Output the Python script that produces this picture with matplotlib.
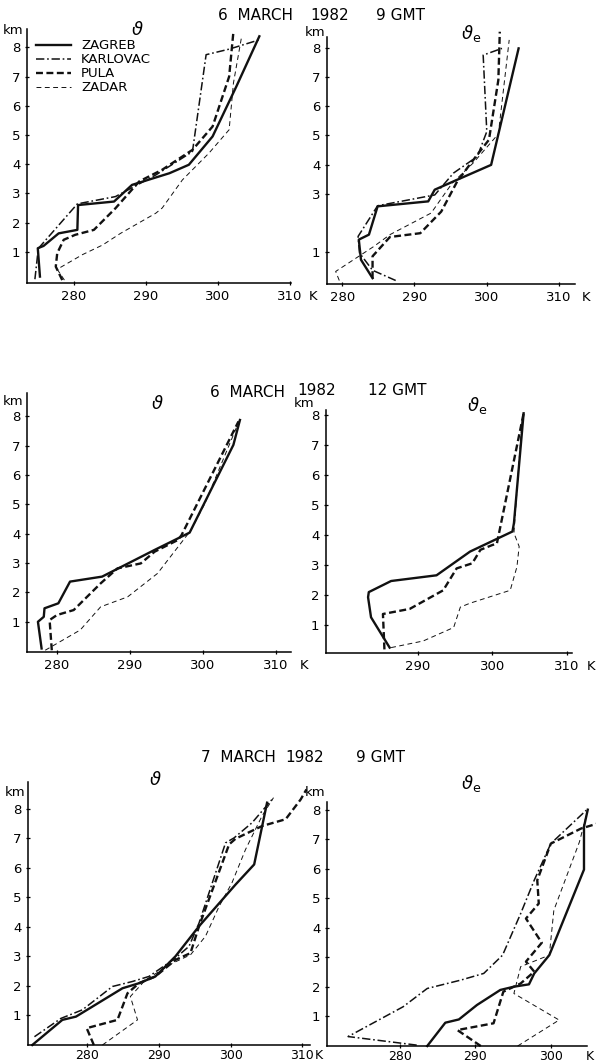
import matplotlib
matplotlib.use("Agg")
import matplotlib.pyplot as plt

W, H = 596, 1062

# station profiles, (K, km) pairs
# 6 March 1982 9 GMT, theta
TH_0609_ZAGREB = [(275.3, 0.15), (275.0, 1.12), (275.8, 1.2), (277.9, 1.63), (280.5, 1.75), (280.6, 2.6),
                  (285.6, 2.72), (288.1, 3.29), (293.3, 3.69), (296.0, 3.98), (299.3, 4.95), (302.6, 6.66),
                  (305.8, 8.38)]
TH_0609_KARLOVAC = [(274.6, 0.06), (275.0, 0.95), (275.1, 1.12), (280.5, 2.64), (285.8, 2.89), (291.4, 3.63),
                    (296.5, 4.43), (298.4, 7.75), (301.6, 7.94), (305.8, 8.26)]
TH_0609_PULA = [(278.4, 0.03), (277.5, 0.49), (277.7, 0.95), (278.6, 1.41), (280.2, 1.58), (282.8, 1.75),
                (285.8, 2.49), (289.1, 3.41), (292.3, 3.81), (296.5, 4.49), (299.3, 5.29), (301.6, 7.0),
                (302.2, 8.55)]
TH_0609_ZADAR = [(278.7, 0.03), (277.7, 0.4), (281.2, 0.9), (284.0, 1.23), (286.5, 1.63), (291.4, 2.32),
                 (292.3, 2.5), (295.1, 3.46), (298.8, 4.38), (301.6, 5.18), (302.2, 6.78), (303.3, 8.32)]

# 6 March 1982 9 GMT, theta_e
THE_0609_ZAGREB = [(284.2, 0.11), (282.6, 0.74), (282.3, 1.43), (283.7, 1.6), (284.9, 2.57), (291.9, 2.74),
                   (292.8, 3.14), (295.9, 3.48), (300.6, 3.99), (304.4, 7.98)]
THE_0609_KARLOVAC = [(287.4, 0.03), (284.2, 0.38), (282.4, 0.97), (282.2, 1.54), (284.9, 2.59), (292.8, 2.96),
                     (295.4, 3.71), (298.7, 4.28), (300.0, 5.13), (299.5, 7.75), (302.1, 7.98)]
THE_0609_PULA = [(284.2, 0.11), (284.2, 0.86), (286.6, 1.52), (290.8, 1.65), (293.7, 2.39), (295.9, 3.42),
                 (298.5, 4.28), (300.3, 4.85), (301.6, 6.9), (301.8, 8.55)]
THE_0609_ZADAR = [(279.6, 0.03), (279.1, 0.34), (284.4, 1.2), (286.6, 1.6), (292.3, 2.34), (295.2, 3.36),
                  (298.1, 4.05), (301.6, 5.05), (303.1, 8.27)]

# 6 March 1982 12 GMT, theta
TH_0612_ZAGREB = [(277.9, 0.09), (277.4, 1.0), (278.2, 1.17), (278.3, 1.46), (280.2, 1.63), (281.8, 2.37),
                  (286.2, 2.54), (293.4, 3.45), (298.2, 4.04), (304.2, 7.03), (305.1, 7.88)]
TH_0612_PULA = [(279.3, 0.03), (279.0, 1.06), (280.0, 1.23), (282.3, 1.4), (286.0, 2.31), (288.3, 2.82),
                (291.5, 2.99), (293.4, 3.39), (296.6, 3.79), (297.1, 3.96), (304.9, 7.83)]
TH_0612_ZADAR = [(278.4, 0.03), (280.0, 0.26), (283.2, 0.72), (286.0, 1.51), (289.7, 1.85), (293.8, 2.65),
                 (298.4, 4.13), (300.3, 5.04), (305.0, 7.85)]

# 6 March 1982 12 GMT, theta_e
THE_0612_ZAGREB = [(286.2, 0.25), (283.7, 1.26), (283.3, 1.93), (283.4, 2.1), (286.4, 2.47), (292.5, 2.66),
                   (297.0, 3.45), (302.7, 4.12), (302.9, 4.4), (304.2, 8.06)]
THE_0612_PULA = [(285.5, 0.19), (285.3, 1.37), (288.9, 1.54), (293.4, 2.16), (295.2, 2.89), (297.3, 3.06),
                 (298.4, 3.51), (300.0, 3.67), (300.6, 3.71), (300.9, 4.07), (304.2, 8.06)]
THE_0612_ZADAR = [(286.4, 0.25), (290.7, 0.47), (294.8, 0.92), (295.7, 1.6), (297.0, 1.73), (302.4, 2.16),
                  (303.3, 2.94), (303.6, 3.62), (302.9, 4.07), (304.0, 7.9)]

# 7 March 1982 9 GMT, theta
TH_0709_ZAGREB = [(272.3, 0.0), (276.5, 0.85), (278.4, 0.96), (284.9, 1.92), (287.2, 2.09), (289.5, 2.32),
                  (292.3, 3.0), (295.6, 4.02), (300.7, 5.43), (303.3, 6.11), (305.1, 8.2)]
TH_0709_KARLOVAC = [(272.6, 0.28), (276.3, 0.9), (279.3, 1.19), (283.5, 1.98), (286.3, 2.15), (288.6, 2.32),
                    (292.3, 2.94), (294.2, 3.34), (295.6, 4.13), (299.3, 6.84), (300.5, 7.01), (303.0, 7.52),
                    (305.8, 8.31)]
TH_0709_PULA = [(280.9, 0.0), (279.9, 0.57), (284.2, 0.85), (285.6, 1.75), (287.2, 2.09), (289.5, 2.32),
                (292.3, 2.88), (294.4, 3.11), (295.6, 4.02), (299.8, 6.79), (300.7, 6.98), (304.4, 7.41),
                (307.7, 7.64), (309.8, 8.31), (310.6, 8.65)]
TH_0709_ZADAR = [(282.1, 0.0), (287.0, 0.85), (286.0, 1.64), (288.1, 2.2), (291.9, 2.77), (294.4, 3.05),
                 (296.5, 3.68), (298.4, 4.69), (300.2, 5.49), (302.1, 6.62), (304.4, 7.75), (306.0, 8.37)]

# 7 March 1982 9 GMT, theta_e
THE_0709_ZAGREB = [(283.6, 0.0), (286.0, 0.79), (287.8, 0.9), (290.2, 1.39), (293.3, 1.9), (295.1, 2.01),
                   (297.1, 2.09), (297.8, 2.46), (299.8, 3.08), (304.4, 5.98), (304.4, 7.43), (304.9, 8.01)]
THE_0709_KARLOVAC = [(282.2, 0.03), (273.1, 0.32), (280.4, 1.33), (283.6, 1.95), (288.0, 2.23), (291.1, 2.46),
                     (293.6, 3.08), (296.0, 4.49), (297.8, 5.62), (300.0, 6.86), (304.7, 7.99)]
THE_0709_PULA = [(290.7, 0.0), (287.6, 0.54), (292.4, 0.77), (293.7, 1.84), (296.0, 2.12), (297.8, 2.52),
                 (296.7, 2.86), (298.8, 3.5), (296.7, 4.32), (298.4, 4.83), (298.2, 5.62), (300.0, 6.86),
                 (304.0, 7.37), (306.2, 7.54)]
THE_0709_ZADAR = [(295.6, 0.0), (301.1, 0.88), (295.1, 1.78), (296.0, 2.69), (299.8, 3.08), (300.4, 4.6),
                  (303.8, 6.92), (304.9, 8.01)]

STATIONS = ["ZAGREB", "KARLOVAC", "PULA", "ZADAR"]
X_TICKS = [280, 290, 300, 310]
Y_TICKS = [1, 2, 3, 4, 5, 6, 7, 8]

# line style per station
STYLE = {
    "ZAGREB": dict(ls="-", lw=1.7),
    "KARLOVAC": dict(ls=(0, (6, 2, 1.2, 2)), lw=1.1),
    "PULA": dict(ls=(0, (5, 2.5)), lw=1.7),
    "ZADAR": dict(ls=(0, (3.5, 2.5)), lw=0.7),
}

plt.rcParams["font.family"] = "DejaVu Sans"
plt.rcParams["lines.scale_dashes"] = False

fig = plt.figure(figsize=(W / 100, H / 100), dpi=100)


def add_panel(box, xlim, ylim, xticks, yticks, k_dx, pad=3, size=9.5):
    """box is (left, right, bottom, top) of the axis lines in pixels"""
    left, right, bottom, top = box
    ax = fig.add_axes([left / W, 1 - bottom / H, (right - left) / W, (bottom - top) / H])
    ax.set_xlim(xlim)
    ax.set_ylim(ylim)
    for side in ["top", "right"]:
        ax.spines[side].set_visible(False)
    for side in ["left", "bottom"]:
        ax.spines[side].set_linewidth(1.1)
    ax.set_xticks(xticks)
    ax.set_yticks(yticks)
    ax.tick_params(direction="inout", length=3.5, width=0.9, labelsize=9.5, pad=3)
    ax.tick_params(axis="x", pad=pad, labelsize=size)
    ax.annotate("K", xy=(1, 0), xycoords="axes fraction", xytext=(k_dx * 0.72, -(pad + 2.2)),
                textcoords="offset points", ha="center", va="top", fontsize=size)
    return ax


def draw(ax, profiles):
    for name, prof in profiles:
        k = [p[0] for p in prof]
        z = [p[1] for p in prof]
        ax.plot(k, z, color="#111111", clip_on=False, label=name, **STYLE[name])


def fig_text(x, y, s, size=10.5, **kw):
    fig.text(x / W, 1 - y / H, s, ha="center", va="center", fontsize=size, **kw)


# top row
ax = add_panel((27, 291, 283, 29), (273.5, 310.2), (-0.07, 8.63), X_TICKS, Y_TICKS, 22)
draw(ax, zip(STATIONS, [TH_0609_ZAGREB, TH_0609_KARLOVAC, TH_0609_PULA, TH_0609_ZADAR]))
ax.legend(loc="upper left", bbox_to_anchor=(0.035, 0.96), frameon=False, fontsize=9.5,
          handlelength=2.65, handletextpad=0.75, labelspacing=0.08, borderpad=0, borderaxespad=0)

ax = add_panel((327, 575, 284, 37), (277.9, 312.2), (-0.09, 8.37), X_TICKS, [1, 3, 4, 5, 6, 7, 8], 11)
draw(ax, zip(STATIONS, [THE_0609_ZAGREB, THE_0609_KARLOVAC, THE_0609_PULA, THE_0609_ZADAR]))

# middle row (no Karlovac sounding)
ax = add_panel((27, 291, 652, 393), (275.9, 312.1), (-0.03, 8.8), X_TICKS, Y_TICKS, 13)
draw(ax, zip(["ZAGREB", "PULA", "ZADAR"], [TH_0612_ZAGREB, TH_0612_PULA, TH_0612_ZADAR]))

ax = add_panel((326, 572, 653, 410), (277.65, 310.7), (0.07, 8.17), [290, 300, 310], Y_TICKS, 19)
draw(ax, zip(["ZAGREB", "PULA", "ZADAR"], [THE_0612_ZAGREB, THE_0612_PULA, THE_0612_ZADAR]))

# bottom row, labels squeezed against the lower edge
ax = add_panel((28, 310, 1045, 782), (271.7, 311.1), (0, 8.9), X_TICKS, Y_TICKS, 9, pad=0.8, size=9)
draw(ax, zip(STATIONS, [TH_0709_ZAGREB, TH_0709_KARLOVAC, TH_0709_PULA, TH_0709_ZADAR]))

ax = add_panel((327, 587, 1046, 802), (270.3, 304.8), (0, 8.27), [280, 290, 300], Y_TICKS, 3, pad=0.8, size=9)
draw(ax, zip(STATIONS, [THE_0709_ZAGREB, THE_0709_KARLOVAC, THE_0709_PULA, THE_0709_ZADAR]))

# titles
for x, y, s in [(255, 15, "6  MARCH"), (330, 15, "1982"), (401, 15, "9 GMT"),
                (247, 392, "6  MARCH"), (317, 390, "1982"), (397, 390, "12 GMT"),
                (238, 757, "7  MARCH"), (305, 757, "1982"), (381, 757, "9 GMT")]:
    fig_text(x, y, s, size=11)

# variable symbols
for x, y in [(137, 30), (157, 404), (155, 780)]:
    fig_text(x, y, r"$\vartheta$", size=13)
for x, y in [(471, 33), (477, 405), (471, 783)]:
    fig_text(x, y, r"$\vartheta_{\mathrm{e}}$", size=13)

# km labels
for x, y in [(13, 31), (315, 33), (13, 401), (304, 403), (15, 793), (315, 793)]:
    fig_text(x, y, "km", size=9.5)

fig.savefig("out.png", dpi=100, facecolor="white")
